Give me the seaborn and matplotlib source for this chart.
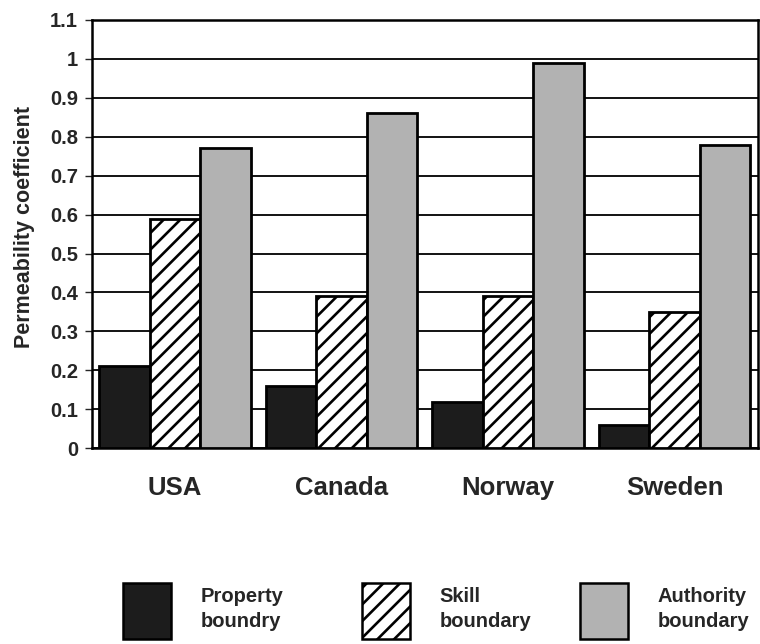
import matplotlib
matplotlib.use("Agg")
import matplotlib.pyplot as plt
import seaborn as sns
import pandas as pd
from matplotlib.patches import Patch

countries = ["USA", "Canada", "Norway", "Sweden"]
series = ["Property\nboundry", "Skill\nboundary", "Authority\nboundary"]
property_vals = [0.21, 0.16, 0.12, 0.06]
skill_vals = [0.59, 0.39, 0.39, 0.35]
authority_vals = [0.77, 0.86, 0.99, 0.78]
yticks = [0, 0.1, 0.2, 0.3, 0.4, 0.5, 0.6, 0.7, 0.8, 0.9, 1, 1.1]
ytick_labels = ["0", "0.1", "0.2", "0.3", "0.4", "0.5", "0.6", "0.7", "0.8", "0.9", "1", "1.1"]

rows = []
for vals, s in zip([property_vals, skill_vals, authority_vals], series):
    for c, v in zip(countries, vals):
        rows.append({"country": c, "series": s, "value": v})
df = pd.DataFrame(rows)

sns.set_style("white")
plt.rcParams['font.family'] = ['Liberation Sans', 'DejaVu Sans']
plt.rcParams['hatch.linewidth'] = 1.9
plt.rcParams['hatch.color'] = '#333333'

fig = plt.figure(figsize=(7.6, 6.44), dpi=100)
ax = fig.add_axes([0.121, 0.304, 0.876, 0.665])

colors = ["#1c1c1c", "#ffffff", "#b2b2b2"]
sns.barplot(data=df, x="country", y="value", hue="series", palette=colors,
            width=0.91, ax=ax, edgecolor="black", linewidth=2.0, legend=False,
            saturation=1, zorder=3)

hatches = ["", "//", ""]
for container, h in zip(ax.containers, hatches):
    for bar in container:
        bar.set_hatch(h)

ax.set_ylim(0, 1.1)
ax.set_yticks(yticks)
ax.set_yticklabels(ytick_labels, fontsize=14.5, fontweight="bold")
ax.yaxis.grid(True, color="black", linewidth=1.3, zorder=0)
ax.set_axisbelow(True)
ax.set_xlabel("")
ax.set_ylabel("Permeability coefficient", fontsize=15.5, fontweight="bold")
ax.yaxis.set_label_coords(-0.086, 0.516)
ax.set_xticks([0.5, 1.5, 2.5], minor=True)
ax.tick_params(axis="x", which="major", length=0, pad=20)
ax.tick_params(axis="x", which="minor", length=5, width=1, direction="out")
ax.tick_params(axis="y", length=5, width=1, direction="out", left=True, pad=5)
for lbl in ax.get_xticklabels():
    lbl.set_fontsize(18.5)
    lbl.set_fontweight("bold")
for sp in ax.spines.values():
    sp.set_linewidth(1.8)
    sp.set_color("black")

handles = [Patch(facecolor=colors[i], edgecolor="black", hatch=hatches[i], linewidth=1.8)
           for i in range(3)]
legend_x = [0.162, 0.476, 0.763]
for i in range(3):
    leg = fig.legend([handles[i]], [series[i]], loc="upper left",
                     bbox_to_anchor=(legend_x[i], 0.0947), borderpad=0,
                     borderaxespad=0, frameon=False, handlelength=2.4,
                     handleheight=3.9, handletextpad=1.45, labelspacing=0,
                     prop={"weight": "bold", "size": 14.5})
    for t in leg.get_texts():
        t.set_multialignment("left")
        t.set_linespacing(1.35)

fig.savefig("out.png", dpi=100)
